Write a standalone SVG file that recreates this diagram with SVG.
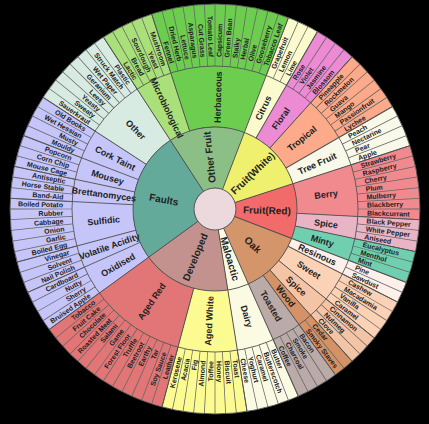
<svg xmlns="http://www.w3.org/2000/svg" width="429" height="424" viewBox="0 0 429 424">
<style>
.o{font-family:"Liberation Sans",Arial,sans-serif;font-weight:bold;font-size:7px;fill:#222}
.m{font-family:"Liberation Sans",Arial,sans-serif;font-weight:bold;font-size:9px;fill:#222;text-anchor:middle}
.i{font-family:"Liberation Sans",Arial,sans-serif;font-weight:bold;font-size:10px;fill:#222;text-anchor:middle}
.L{text-anchor:end}
.seg{fill:none}
.s2{stroke:#555;stroke-width:0.9}
.ring{fill:none;stroke:#555;stroke-width:0.9}
</style>
<rect width="429" height="424" fill="#000"/>
<g transform="translate(215,209) rotate(-90)">
<g id="groups" class="seg" stroke-width="123">
<circle r="143.5" pathLength="360" stroke="#c5c5fa" stroke-dasharray="69 360" transform="rotate(234)"/>
<circle r="143.5" pathLength="360" stroke="#d7ebe3" stroke-dasharray="24 360" transform="rotate(303)"/>
<circle r="143.5" pathLength="360" stroke="#a9e07a" stroke-dasharray="15 360" transform="rotate(327)"/>
<circle r="143.5" pathLength="360" stroke="#6ccd4f" stroke-dasharray="39 360" transform="rotate(342)"/>
<circle r="143.5" pathLength="360" stroke="#fafacd" stroke-dasharray="9 360" transform="rotate(21)"/>
<circle r="143.5" pathLength="360" stroke="#ec8ad4" stroke-dasharray="12 360" transform="rotate(30)"/>
<circle r="143.5" pathLength="360" stroke="#fcaa8a" stroke-dasharray="18 360" transform="rotate(42)"/>
<circle r="143.5" pathLength="360" stroke="#f9f9ea" stroke-dasharray="12 360" transform="rotate(60)"/>
<circle r="143.5" pathLength="360" stroke="#f08a8f" stroke-dasharray="21 360" transform="rotate(72)"/>
<circle r="143.5" pathLength="360" stroke="#e9b4c6" stroke-dasharray="9 360" transform="rotate(93)"/>
<circle r="143.5" pathLength="360" stroke="#6fcfae" stroke-dasharray="9 360" transform="rotate(102)"/>
<circle r="143.5" pathLength="360" stroke="#fdf0ea" stroke-dasharray="6 360" transform="rotate(111)"/>
<circle r="143.5" pathLength="360" stroke="#fcd2b6" stroke-dasharray="12 360" transform="rotate(117)"/>
<circle r="143.5" pathLength="360" stroke="#f4c4a6" stroke-dasharray="9 360" transform="rotate(129)"/>
<circle r="143.5" pathLength="360" stroke="#d49266" stroke-dasharray="6 360" transform="rotate(138)"/>
<circle r="143.5" pathLength="360" stroke="#baaaa8" stroke-dasharray="12 360" transform="rotate(144)"/>
<circle r="143.5" pathLength="360" stroke="#fbfbe4" stroke-dasharray="15 360" transform="rotate(156)"/>
<circle r="143.5" pathLength="360" stroke="#fbfb92" stroke-dasharray="24 360" transform="rotate(171)"/>
<circle r="143.5" pathLength="360" stroke="#e27676" stroke-dasharray="39 360" transform="rotate(195)"/>
</g>
<g id="categories" class="seg" stroke-width="61">
<circle r="51.5" pathLength="360" stroke="#64aa9b" stroke-dasharray="93 360" transform="rotate(234)"/>
<circle r="51.5" pathLength="360" stroke="#8cbf86" stroke-dasharray="54 360" transform="rotate(327)"/>
<circle r="51.5" pathLength="360" stroke="#eef06e" stroke-dasharray="51 360" transform="rotate(21)"/>
<circle r="51.5" pathLength="360" stroke="#f26a6a" stroke-dasharray="39 360" transform="rotate(72)"/>
<circle r="51.5" pathLength="360" stroke="#d4956b" stroke-dasharray="45 360" transform="rotate(111)"/>
<circle r="51.5" pathLength="360" stroke="#fbfbe4" stroke-dasharray="15 360" transform="rotate(156)"/>
<circle r="51.5" pathLength="360" stroke="#c4928e" stroke-dasharray="63 360" transform="rotate(171)"/>
</g>
<circle id="hub" r="21" fill="#ebd9dd"/>
<g id="connectors">
<circle r="174" fill="none" stroke="#666" stroke-width="62" pathLength="360" stroke-dasharray="0.25 2.75" transform="rotate(-0.125)"/>
<circle class="ring" r="21"/><circle class="ring" r="82"/><circle class="ring" r="143"/><circle class="ring" r="205"/>
<g class="s2">
<line x1="82" x2="205" transform="rotate(246)"/><line x1="82" x2="205" transform="rotate(255)"/><line x1="82" x2="205" transform="rotate(273)"/><line x1="82" x2="205" transform="rotate(282)"/><line x1="82" x2="205" transform="rotate(291)"/><line x1="82" x2="205" transform="rotate(303)"/>
<line x1="82" x2="205" transform="rotate(342)"/><line x1="82" x2="205" transform="rotate(30)"/><line x1="82" x2="205" transform="rotate(42)"/><line x1="82" x2="205" transform="rotate(60)"/>
<line x1="82" x2="205" transform="rotate(93)"/><line x1="82" x2="205" transform="rotate(102)"/>
<line x1="82" x2="205" transform="rotate(117)"/><line x1="82" x2="205" transform="rotate(129)"/><line x1="82" x2="205" transform="rotate(138)"/><line x1="82" x2="205" transform="rotate(144)"/>
<line x1="82" x2="205" transform="rotate(195)"/>
<line x1="21" x2="205" transform="rotate(234)"/><line x1="21" x2="205" transform="rotate(327)"/><line x1="21" x2="205" transform="rotate(21)"/><line x1="21" x2="205" transform="rotate(72)"/><line x1="21" x2="205" transform="rotate(111)"/><line x1="21" x2="205" transform="rotate(156)"/><line x1="21" x2="205" transform="rotate(171)"/>
</g>
</g>
<g id="inner-labels" class="i">
<text id="n-faults" transform="rotate(460.5)" x="-52" dy="0.35em">Faults</text>
<text id="n-otherfruit" transform="rotate(354)" x="52" dy="0.35em">Other Fruit</text>
<text id="n-fruitwhite" transform="rotate(46.5)" x="52" dy="0.35em">Fruit(White)</text>
<text id="n-fruitred" transform="rotate(91.5)" x="52" dy="0.35em">Fruit(Red)</text>
<text id="n-oak" transform="rotate(133.5)" x="52" dy="0.35em">Oak</text>
<text id="n-maloactic" transform="rotate(163.5)" x="52" dy="0.35em">Maloactic</text>
<text id="n-developed" transform="rotate(382.5)" x="-52" dy="0.35em">Developed</text>
</g>
<g id="middle-labels" class="m">
<text transform="rotate(420)" x="-112" dy="0.35em">Oxidised</text>
<text transform="rotate(430.5)" x="-112" dy="0.35em">Volatile Acidity</text>
<text transform="rotate(444)" x="-112" dy="0.35em">Sulfidic</text>
<text transform="rotate(457.5)" x="-112" dy="0.35em">Brettanomyces</text>
<text transform="rotate(466.5)" x="-112" dy="0.35em">Mousey</text>
<text transform="rotate(477)" x="-112" dy="0.35em">Cork Taint</text>
<text transform="rotate(495)" x="-112" dy="0.35em">Other</text>
<text transform="rotate(514.5)" x="-112" dy="0.35em">Microbiological</text>
<text transform="rotate(1.5)" x="112" dy="0.35em">Herbaceous</text>
<text transform="rotate(25.5)" x="112" dy="0.35em">Citrus</text>
<text transform="rotate(36)" x="112" dy="0.35em">Floral</text>
<text transform="rotate(51)" x="112" dy="0.35em">Tropical</text>
<text transform="rotate(66)" x="112" dy="0.35em">Tree Fruit</text>
<text transform="rotate(82.5)" x="112" dy="0.35em">Berry</text>
<text transform="rotate(97.5)" x="112" dy="0.35em">Spice</text>
<text transform="rotate(106.5)" x="112" dy="0.35em">Minty</text>
<text transform="rotate(114)" x="112" dy="0.35em">Resinous</text>
<text transform="rotate(123)" x="112" dy="0.35em">Sweet</text>
<text transform="rotate(133.5)" x="112" dy="0.35em">Spice</text>
<text transform="rotate(141)" x="112" dy="0.35em">Wood</text>
<text transform="rotate(150)" x="112" dy="0.35em">Toasted</text>
<text transform="rotate(163.5)" x="112" dy="0.35em">Dairy</text>
<text transform="rotate(363)" x="-112" dy="0.35em">Aged White</text>
<text transform="rotate(394.5)" x="-112" dy="0.35em">Aged Red</text>
</g>
<g id="outer-labels" class="o">
<text class="L" transform="rotate(415.5)" x="-152" dy="0.35em">Bruised Apple</text>
<text class="L" transform="rotate(418.5)" x="-152" dy="0.35em">Sherry</text>
<text class="L" transform="rotate(421.5)" x="-152" dy="0.35em">Nutty</text>
<text class="L" transform="rotate(424.5)" x="-152" dy="0.35em">Cardboard</text>
<text class="L" transform="rotate(427.5)" x="-152" dy="0.35em">Nail Polish</text>
<text class="L" transform="rotate(430.5)" x="-152" dy="0.35em">Solvent</text>
<text class="L" transform="rotate(433.5)" x="-152" dy="0.35em">Vinegar</text>
<text class="L" transform="rotate(436.5)" x="-152" dy="0.35em">Boiled Egg</text>
<text class="L" transform="rotate(439.5)" x="-152" dy="0.35em">Garlic</text>
<text class="L" transform="rotate(442.5)" x="-152" dy="0.35em">Onion</text>
<text class="L" transform="rotate(445.5)" x="-152" dy="0.35em">Cabbage</text>
<text class="L" transform="rotate(448.5)" x="-152" dy="0.35em">Rubber</text>
<text class="L" transform="rotate(451.5)" x="-152" dy="0.35em">Boiled Potato</text>
<text class="L" transform="rotate(454.5)" x="-152" dy="0.35em">Band-Aid</text>
<text class="L" transform="rotate(457.5)" x="-152" dy="0.35em">Horse Stable</text>
<text class="L" transform="rotate(460.5)" x="-152" dy="0.35em">Antiseptic</text>
<text class="L" transform="rotate(463.5)" x="-152" dy="0.35em">Mouse Cage</text>
<text class="L" transform="rotate(466.5)" x="-152" dy="0.35em">Corn Chip</text>
<text class="L" transform="rotate(469.5)" x="-152" dy="0.35em">Popcorn</text>
<text class="L" transform="rotate(472.5)" x="-152" dy="0.35em">Mouldy</text>
<text class="L" transform="rotate(475.5)" x="-152" dy="0.35em">Musty</text>
<text class="L" transform="rotate(478.5)" x="-152" dy="0.35em">Wet Hessian</text>
<text class="L" transform="rotate(481.5)" x="-152" dy="0.35em">Old Books</text>
<text class="L" transform="rotate(484.5)" x="-152" dy="0.35em">Sauerkraut</text>
<text class="L" transform="rotate(487.5)" x="-152" dy="0.35em">Sweaty</text>
<text class="L" transform="rotate(490.5)" x="-152" dy="0.35em">Yeasty</text>
<text class="L" transform="rotate(493.5)" x="-152" dy="0.35em">Leesy</text>
<text class="L" transform="rotate(496.5)" x="-152" dy="0.35em">Geranium</text>
<text class="L" transform="rotate(499.5)" x="-152" dy="0.35em">Wet Paper</text>
<text class="L" transform="rotate(502.5)" x="-152" dy="0.35em">Struck Match</text>
<text class="L" transform="rotate(505.5)" x="-152" dy="0.35em">Plastic</text>
<text class="L" transform="rotate(508.5)" x="-152" dy="0.35em">Lactic</text>
<text class="L" transform="rotate(511.5)" x="-152" dy="0.35em">Bread</text>
<text class="L" transform="rotate(514.5)" x="-152" dy="0.35em">Sourdough</text>
<text class="L" transform="rotate(517.5)" x="-152" dy="0.35em">Yeast</text>
<text class="L" transform="rotate(520.5)" x="-152" dy="0.35em">Mushroom</text>
<text class="L" transform="rotate(523.5)" x="-152" dy="0.35em">Fennel</text>
<text class="L" transform="rotate(526.5)" x="-152" dy="0.35em">Dried Herb</text>
<text class="L" transform="rotate(529.5)" x="-152" dy="0.35em">Lettuce</text>
<text class="L" transform="rotate(532.5)" x="-152" dy="0.35em">Asparagus</text>
<text class="L" transform="rotate(535.5)" x="-152" dy="0.35em">Cut Grass</text>
<text class="L" transform="rotate(538.5)" x="-152" dy="0.35em">Tomato Leaf</text>
<text transform="rotate(1.5)" x="152" dy="0.35em">Capsicum</text>
<text transform="rotate(4.5)" x="152" dy="0.35em">Green Bean</text>
<text transform="rotate(7.5)" x="152" dy="0.35em">Stalky</text>
<text transform="rotate(10.5)" x="152" dy="0.35em">Herbal</text>
<text transform="rotate(13.5)" x="152" dy="0.35em">Olive</text>
<text transform="rotate(16.5)" x="152" dy="0.35em">Gooseberry</text>
<text transform="rotate(19.5)" x="152" dy="0.35em">Tobacco Leaf</text>
<text transform="rotate(22.5)" x="152" dy="0.35em">Grapefruit</text>
<text transform="rotate(25.5)" x="152" dy="0.35em">Lemon</text>
<text transform="rotate(28.5)" x="152" dy="0.35em">Lime</text>
<text transform="rotate(31.5)" x="152" dy="0.35em">Rose</text>
<text transform="rotate(34.5)" x="152" dy="0.35em">Violet</text>
<text transform="rotate(37.5)" x="152" dy="0.35em">Jasmine</text>
<text transform="rotate(40.5)" x="152" dy="0.35em">Blossom</text>
<text transform="rotate(43.5)" x="152" dy="0.35em">Pineapple</text>
<text transform="rotate(46.5)" x="152" dy="0.35em">Rockmelon</text>
<text transform="rotate(49.5)" x="152" dy="0.35em">Guava</text>
<text transform="rotate(52.5)" x="152" dy="0.35em">Mango</text>
<text transform="rotate(55.5)" x="152" dy="0.35em">Passionfruit</text>
<text transform="rotate(58.5)" x="152" dy="0.35em">Lychee</text>
<text transform="rotate(61.5)" x="152" dy="0.35em">Peach</text>
<text transform="rotate(64.5)" x="152" dy="0.35em">Nectarine</text>
<text transform="rotate(67.5)" x="152" dy="0.35em">Pear</text>
<text transform="rotate(70.5)" x="152" dy="0.35em">Apple</text>
<text transform="rotate(73.5)" x="152" dy="0.35em">Strawberry</text>
<text transform="rotate(76.5)" x="152" dy="0.35em">Raspberry</text>
<text transform="rotate(79.5)" x="152" dy="0.35em">Cherry</text>
<text transform="rotate(82.5)" x="152" dy="0.35em">Plum</text>
<text transform="rotate(85.5)" x="152" dy="0.35em">Mulberry</text>
<text transform="rotate(88.5)" x="152" dy="0.35em">Blackberry</text>
<text transform="rotate(91.5)" x="152" dy="0.35em">Blackcurrant</text>
<text transform="rotate(94.5)" x="152" dy="0.35em">Black Pepper</text>
<text transform="rotate(97.5)" x="152" dy="0.35em">White Pepper</text>
<text transform="rotate(100.5)" x="152" dy="0.35em">Aniseed</text>
<text transform="rotate(103.5)" x="152" dy="0.35em">Eucalyptus</text>
<text transform="rotate(106.5)" x="152" dy="0.35em">Menthol</text>
<text transform="rotate(109.5)" x="152" dy="0.35em">Mint</text>
<text transform="rotate(112.5)" x="152" dy="0.35em">Pine</text>
<text transform="rotate(115.5)" x="152" dy="0.35em">Sawdust</text>
<text transform="rotate(118.5)" x="152" dy="0.35em">Cashew</text>
<text transform="rotate(121.5)" x="152" dy="0.35em">Macadamia</text>
<text transform="rotate(124.5)" x="152" dy="0.35em">Vanilla</text>
<text transform="rotate(127.5)" x="152" dy="0.35em">Caramel</text>
<text transform="rotate(130.5)" x="152" dy="0.35em">Cinnamon</text>
<text transform="rotate(133.5)" x="152" dy="0.35em">Nutmeg</text>
<text transform="rotate(136.5)" x="152" dy="0.35em">Clove</text>
<text transform="rotate(139.5)" x="152" dy="0.35em">Cedar</text>
<text transform="rotate(142.5)" x="152" dy="0.35em">Smoky Staves</text>
<text transform="rotate(145.5)" x="152" dy="0.35em">Bacon</text>
<text transform="rotate(148.5)" x="152" dy="0.35em">Smoke</text>
<text transform="rotate(151.5)" x="152" dy="0.35em">Charcoal</text>
<text transform="rotate(154.5)" x="152" dy="0.35em">Coffee</text>
<text transform="rotate(157.5)" x="152" dy="0.35em">Butter</text>
<text transform="rotate(160.5)" x="152" dy="0.35em">Butterscotch</text>
<text transform="rotate(163.5)" x="152" dy="0.35em">Caramel</text>
<text transform="rotate(166.5)" x="152" dy="0.35em">Yoghurt</text>
<text transform="rotate(169.5)" x="152" dy="0.35em">Cheese</text>
<text transform="rotate(172.5)" x="152" dy="0.35em">Toast</text>
<text transform="rotate(175.5)" x="152" dy="0.35em">Biscuit</text>
<text transform="rotate(178.5)" x="152" dy="0.35em">Honey</text>
<text class="L" transform="rotate(361.5)" x="-152" dy="0.35em">Toffee</text>
<text class="L" transform="rotate(364.5)" x="-152" dy="0.35em">Almond</text>
<text class="L" transform="rotate(367.5)" x="-152" dy="0.35em">Fig</text>
<text class="L" transform="rotate(370.5)" x="-152" dy="0.35em">Acacia</text>
<text class="L" transform="rotate(373.5)" x="-152" dy="0.35em">Kerosene</text>
<text class="L" transform="rotate(376.5)" x="-152" dy="0.35em">Leather</text>
<text class="L" transform="rotate(379.5)" x="-152" dy="0.35em">Soy Sauce</text>
<text class="L" transform="rotate(382.5)" x="-152" dy="0.35em">Tar</text>
<text class="L" transform="rotate(385.5)" x="-152" dy="0.35em">Earthy</text>
<text class="L" transform="rotate(388.5)" x="-152" dy="0.35em">Beetroot</text>
<text class="L" transform="rotate(391.5)" x="-152" dy="0.35em">Truffle</text>
<text class="L" transform="rotate(394.5)" x="-152" dy="0.35em">Forest Floor</text>
<text class="L" transform="rotate(397.5)" x="-152" dy="0.35em">Game</text>
<text class="L" transform="rotate(400.5)" x="-152" dy="0.35em">Salami</text>
<text class="L" transform="rotate(403.5)" x="-152" dy="0.35em">Roasted Meat</text>
<text class="L" transform="rotate(406.5)" x="-152" dy="0.35em">Chocolate</text>
<text class="L" transform="rotate(409.5)" x="-152" dy="0.35em">Fruit Cake</text>
<text class="L" transform="rotate(412.5)" x="-152" dy="0.35em">Tobacco</text>
</g>
</g>
</svg>
